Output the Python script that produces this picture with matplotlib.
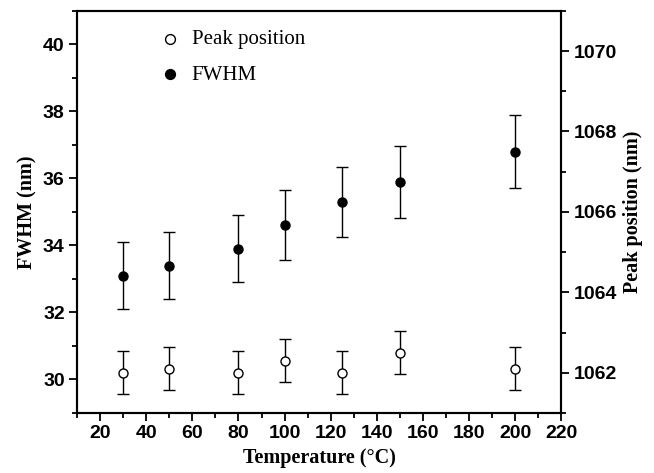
import numpy as np
import matplotlib
matplotlib.use('Agg')
import matplotlib.pyplot as plt
from matplotlib.ticker import MultipleLocator
from matplotlib.font_manager import FontProperties

# data
temperature = [30, 50, 80, 100, 125, 150, 200]
fwhm = [33.1, 33.4, 33.9, 34.6, 35.3, 35.9, 36.8]
fwhm_err = [1.0, 1.0, 1.0, 1.05, 1.05, 1.08, 1.1]
peak_pos = [1062.0, 1062.1, 1062.0, 1062.3, 1062.0, 1062.5, 1062.1]
peak_err = [0.53, 0.53, 0.53, 0.53, 0.53, 0.53, 0.53]

tick_font = {'family': 'Liberation Sans', 'weight': 'bold', 'size': 14}
label_font = {'family': 'Liberation Serif', 'weight': 'bold', 'size': 14.5}

fig, ax = plt.subplots(figsize=(6.54, 4.73), dpi=100)
fig.subplots_adjust(left=0.118, right=0.858, top=0.977, bottom=0.127)
ax2 = ax.twinx()

ax.errorbar(temperature, fwhm, yerr=fwhm_err, fmt='o', color='black',
            markersize=6.5, elinewidth=1, capsize=4, capthick=1, zorder=3)
ax2.errorbar(temperature, peak_pos, yerr=peak_err, fmt='o', color='black',
             mfc='white', mec='black', mew=1, markersize=6.5,
             elinewidth=1, capsize=4, capthick=1, zorder=3)

ax.set_xlim(10, 220)
ax.set_ylim(29, 41)
ax2.set_ylim(1061, 1071)

ax.xaxis.set_major_locator(MultipleLocator(20))
ax.xaxis.set_minor_locator(MultipleLocator(10))
ax.yaxis.set_major_locator(MultipleLocator(2))
ax.yaxis.set_minor_locator(MultipleLocator(1))
ax2.yaxis.set_major_locator(MultipleLocator(2))
ax2.yaxis.set_minor_locator(MultipleLocator(1))

for a in (ax, ax2):
    for sp in a.spines.values():
        sp.set_linewidth(1.5)
    a.tick_params(which='major', direction='out', length=6, width=1.3, pad=3)
    a.tick_params(which='minor', direction='out', length=3.5, width=1.3)
    for lab in a.get_xticklabels() + a.get_yticklabels():
        lab.set_fontproperties(FontProperties(**tick_font))
ax.tick_params(top=False, right=False)
ax.tick_params(which='minor', top=False, right=False)

ax.set_xlabel('Temperature (°C)', fontdict=label_font, labelpad=4)
ax.set_ylabel('FWHM (nm)', fontdict=label_font, labelpad=4)
ax2.set_ylabel('Peak position (nm)', fontdict=label_font, labelpad=4)

# legend without frame, upper left
leg_font = {'family': 'Liberation Serif', 'size': 15}
h1 = ax.scatter([], [], s=50, facecolor='white', edgecolor='black', linewidth=1)
h2 = ax.scatter([], [], s=50, facecolor='black', edgecolor='black')
ax.legend([h1, h2], ['Peak position', 'FWHM'], loc='upper left',
          bbox_to_anchor=(0.097, 1.015), frameon=False, prop=leg_font,
          handletextpad=0.05, labelspacing=0.75, borderaxespad=0.8)

fig.savefig('out.png', dpi=100)
